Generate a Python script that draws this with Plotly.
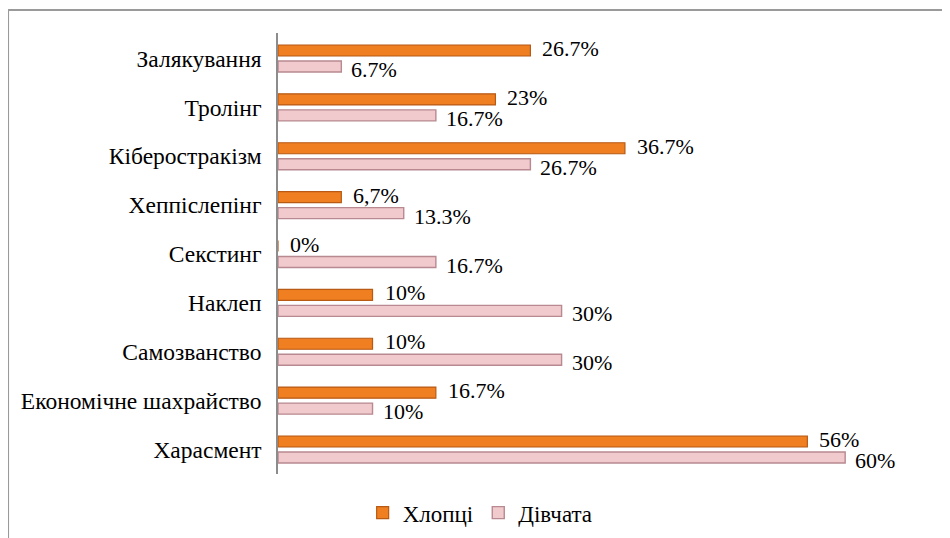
import plotly.graph_objects as go

categories = ["Залякування", "Тролінг", "Кібероcтракізм", "Хеппіслепінг", "Секстинг",
              "Наклеп", "Самозванство", "Економічне шахрайство", "Харасмент"]
boys = [26.7, 23, 36.7, 6.7, 0, 10, 10, 16.7, 56]
girls = [6.7, 16.7, 26.7, 13.3, 16.7, 30, 30, 10, 60]
boys_labels = ["26.7%", "23%", "36.7%", "6,7%", "0%", "10%", "10%", "16.7%", "56%"]
girls_labels = ["6.7%", "16.7%", "26.7%", "13.3%", "16.7%", "30%", "30%", "10%", "60%"]

FONT = "Times New Roman, Liberation Serif, DejaVu Serif, serif"

fig = go.Figure()
fig.add_trace(go.Bar(
    name="Хлопці", y=categories, x=boys, orientation="h",
    marker=dict(color="#EF7F20", line=dict(color="#B85A14", width=1.2)),
))
fig.add_trace(go.Bar(
    name="Дівчата", y=categories, x=girls, orientation="h",
    marker=dict(color="#F0CACC", line=dict(color="#B88990", width=1.4)),
))

annotations = []
for cat, v, lab in zip(categories, boys, boys_labels):
    annotations.append(dict(x=v, y=cat, xref="x", yref="y", text=lab, showarrow=False,
                            xanchor="left", yanchor="middle", xshift=10, yshift=10,
                            font=dict(family=FONT, size=22, color="#000")))
for cat, v, lab in zip(categories, girls, girls_labels):
    annotations.append(dict(x=v, y=cat, xref="x", yref="y", text=lab, showarrow=False,
                            xanchor="left", yanchor="middle", xshift=8, yshift=-11,
                            font=dict(family=FONT, size=22, color="#000")))

fig.update_layout(
    width=950, height=538,
    margin=dict(l=270, r=58, t=25, b=72),
    paper_bgcolor="white", plot_bgcolor="white",
    barmode="group", bargap=0.346, bargroupgap=0.31,
    font=dict(family=FONT, size=22, color="#000"),
    showlegend=True,
    legend=dict(orientation="h", xref="container", yref="container",
                x=0.497, y=0.062, xanchor="center", yanchor="middle",
                font=dict(family=FONT, size=23), itemwidth=30, traceorder="normal"),
    xaxis=dict(range=[0, 65.8], showgrid=False, zeroline=False, showline=False,
               showticklabels=False, ticks=""),
    yaxis=dict(autorange="reversed", showgrid=False, showline=True, linecolor="#8c8c8c",
               linewidth=1.5, ticks="", ticklabelstandoff=10,
               tickfont=dict(family=FONT, size=23.5, color="#000")),
    annotations=annotations,
    shapes=[
        dict(type="line", xref="paper", yref="paper", x0=-0.434, x1=1.1, y0=1.052, y1=1.052,
             line=dict(color="#9a9a9a", width=2)),
        dict(type="line", xref="paper", yref="paper", x0=-0.434, x1=-0.434, y0=1.052, y1=-0.2,
             line=dict(color="#9a9a9a", width=2)),
    ],
)

fig.write_html("out.html")
